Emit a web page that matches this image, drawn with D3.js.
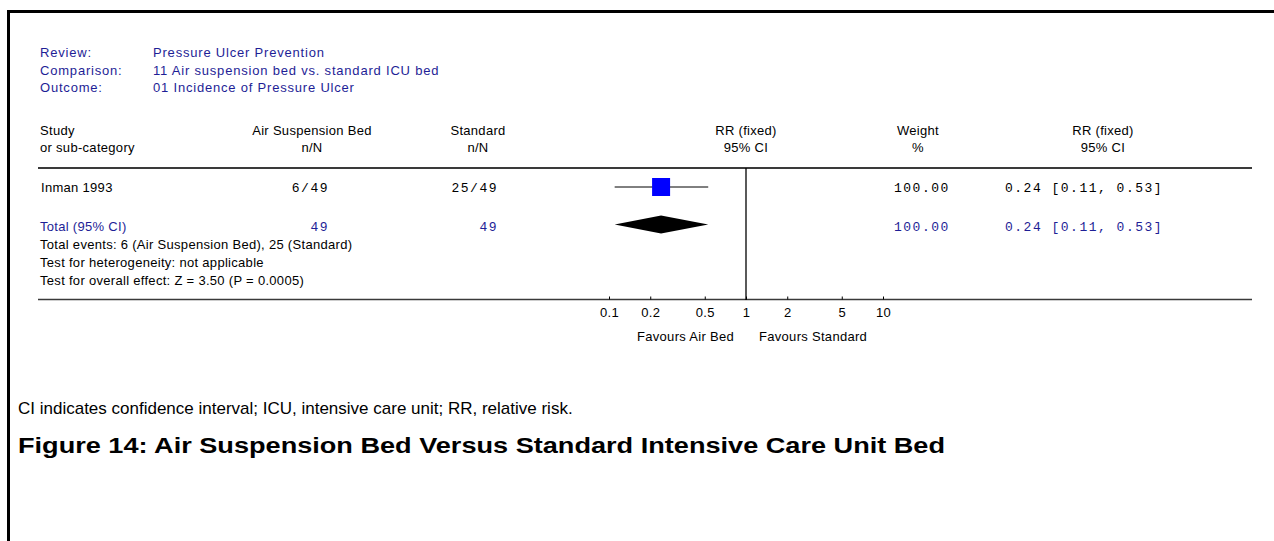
<!DOCTYPE html>
<html>
<head>
<meta charset="utf-8">
<script src="https://cdn.jsdelivr.net/npm/d3@7"></script>
<style>
  body { margin: 0; background: #fff; }
  text { font-family: "Liberation Sans", Arial, sans-serif; font-size: 13px; letter-spacing: 0.3px; }
  .info { letter-spacing: 0.8px; }
  .mono { font-family: "Liberation Mono", "Courier New", monospace; font-size: 13px; letter-spacing: 1.5px; }
</style>
</head>
<body>
<script>
// forest plot data
var studies = ["Inman 1993"];
var airEvents = [6];
var airTotal = [49];
var stdEvents = [25];
var stdTotal = [49];
var studyRR = [0.24];
var studyLow = [0.11];
var studyHigh = [0.53];
var studyWeight = [100.00];

var totalRR = 0.24, totalLow = 0.11, totalHigh = 0.53;
var totalWeight = 100.00;

var tickValues = [0.1, 0.2, 0.5, 1, 2, 5, 10];
var infoLabels = ["Review:", "Comparison:", "Outcome:"];
var infoValues = ["Pressure Ulcer Prevention", "11 Air suspension bed vs. standard ICU bed", "01 Incidence of Pressure Ulcer"];
var footLines = ["Total events: 6 (Air Suspension Bed), 25 (Standard)",
    "Test for heterogeneity: not applicable",
    "Test for overall effect: Z = 3.50 (P = 0.0005)"];

var width = 1274, height = 541;
var blue = "#1e1e96";
var ruleColor = "#3a3a3a";

var svg = d3.select("body").append("svg")
    .attr("width", width)
    .attr("height", height);

// page frame (left and top edges)
svg.append("rect").attr("x", 7).attr("y", 10).attr("width", 3).attr("height", height - 10).attr("fill", "#000");
svg.append("rect").attr("x", 7).attr("y", 10).attr("width", width - 7).attr("height", 3).attr("fill", "#000");

var x = d3.scaleLog().domain([0.1, 10]).range([609, 883]);

// review info
var infoY = d3.scalePoint().domain(infoLabels).range([57, 92]);
svg.selectAll(".info-label").data(infoLabels).enter().append("text")
    .attr("class", "info")
    .attr("x", 40).attr("y", function(d) { return infoY(d); })
    .attr("fill", blue).text(function(d) { return d; });
svg.selectAll(".info-value").data(infoValues).enter().append("text")
    .attr("class", "info")
    .attr("x", 153).attr("y", function(d, i) { return infoY(infoLabels[i]); })
    .attr("fill", blue).text(function(d) { return d; });

// column headers
function header(xPos, anchor, l1, l2) {
    svg.append("text").attr("x", xPos).attr("y", 135).attr("text-anchor", anchor).text(l1);
    svg.append("text").attr("x", xPos).attr("y", 152).attr("text-anchor", anchor).text(l2);
}
header(40, "start", "Study", "or sub-category");
header(312, "middle", "Air Suspension Bed", "n/N");
header(478, "middle", "Standard", "n/N");
header(x(1), "middle", "RR (fixed)", "95% CI");
header(918, "middle", "Weight", "%");
header(1103, "middle", "RR (fixed)", "95% CI");

// rules
svg.append("line").attr("x1", 38).attr("x2", 1252).attr("y1", 168).attr("y2", 168)
    .attr("stroke", ruleColor).attr("stroke-width", 2);
svg.append("line").attr("x1", 38).attr("x2", 1252).attr("y1", 299.5).attr("y2", 299.5)
    .attr("stroke", ruleColor).attr("stroke-width", 1.5);

// line of no effect
svg.append("line").attr("x1", x(1)).attr("x2", x(1)).attr("y1", 168).attr("y2", 300)
    .attr("stroke", "#000").attr("stroke-width", 1.3);

// study rows
var rowY = function(i) { return 187 + i * 20; };
var fmt = d3.format(".2f");

studies.forEach(function(s, i) {
    var y = rowY(i);
    svg.append("text").attr("x", 41).attr("y", y + 4.5).text(s);
    svg.append("text").attr("class", "mono").attr("x", 329).attr("y", y + 4.5)
        .attr("text-anchor", "end").text(airEvents[i] + "/" + airTotal[i]);
    svg.append("text").attr("class", "mono").attr("x", 498).attr("y", y + 4.5)
        .attr("text-anchor", "end").text(stdEvents[i] + "/" + stdTotal[i]);
    svg.append("line").attr("x1", x(studyLow[i])).attr("x2", x(studyHigh[i]))
        .attr("y1", y).attr("y2", y).attr("stroke", "#000").attr("stroke-width", 1);
    var side = 18 * Math.sqrt(studyWeight[i] / 100);
    svg.append("rect").attr("x", x(studyRR[i]) - side / 2).attr("y", y - side / 2)
        .attr("width", side).attr("height", side).attr("fill", "#0000ff");
    svg.append("text").attr("class", "mono").attr("x", 894).attr("y", y + 4.5)
        .text(fmt(studyWeight[i]));
    svg.append("text").attr("class", "mono").attr("x", 1005).attr("y", y + 4.5)
        .text(fmt(studyRR[i]) + " [" + fmt(studyLow[i]) + ", " + fmt(studyHigh[i]) + "]");
});

// total row
var ty = 226;
svg.append("text").attr("x", 40).attr("y", ty + 5).attr("fill", blue).text("Total (95% CI)");
svg.append("text").attr("class", "mono").attr("x", 329).attr("y", ty + 5)
    .attr("text-anchor", "end").attr("fill", blue).text(d3.sum(airTotal));
svg.append("text").attr("class", "mono").attr("x", 498).attr("y", ty + 5)
    .attr("text-anchor", "end").attr("fill", blue).text(d3.sum(stdTotal));
svg.append("polygon")
    .attr("points", [[x(totalLow), ty - 1.5], [x(totalRR), ty - 10.5], [x(totalHigh), ty - 1.5], [x(totalRR), ty + 7.5]]
        .map(function(p) { return p.join(","); }).join(" "))
    .attr("fill", "#000");
svg.append("text").attr("class", "mono").attr("x", 894).attr("y", ty + 5)
    .attr("fill", blue).text(fmt(totalWeight));
svg.append("text").attr("class", "mono").attr("x", 1005).attr("y", ty + 5)
    .attr("fill", blue).text(fmt(totalRR) + " [" + fmt(totalLow) + ", " + fmt(totalHigh) + "]");

svg.selectAll(".foot").data(footLines).enter().append("text")
    .attr("x", 40).attr("y", function(d, i) { return 249 + i * 18; })
    .text(function(d) { return d; });

// axis
var axis = svg.append("g").attr("transform", "translate(0,299.5)")
    .call(d3.axisBottom(x).tickValues(tickValues).tickSize(-3).tickPadding(8)
        .tickFormat(function(d) { return String(d); }));
axis.select(".domain").remove();
axis.selectAll("line").attr("stroke", "#000");
axis.selectAll("text").attr("font-size", 13).attr("font-family", "Liberation Sans, Arial, sans-serif").attr("fill", "#000");

svg.append("text").attr("x", x(1) - 12).attr("y", 341).attr("text-anchor", "end").text("Favours Air Bed");
svg.append("text").attr("x", x(1) + 13).attr("y", 341).text("Favours Standard");

// captions
svg.append("text").attr("x", 18).attr("y", 414)
    .style("font-family", "Liberation Sans, Arial, sans-serif").style("font-size", "17px")
    .style("letter-spacing", "0px")
    .text("CI indicates confidence interval; ICU, intensive care unit; RR, relative risk.");
svg.append("text").attr("x", 18).attr("y", 453)
    .style("font-family", "Liberation Sans, Arial, sans-serif").style("font-size", "22px")
    .style("font-weight", "bold").style("letter-spacing", "0px")
    .attr("textLength", 927).attr("lengthAdjust", "spacingAndGlyphs")
    .text("Figure 14:  Air Suspension Bed Versus Standard Intensive Care Unit Bed");
</script>
</body>
</html>
